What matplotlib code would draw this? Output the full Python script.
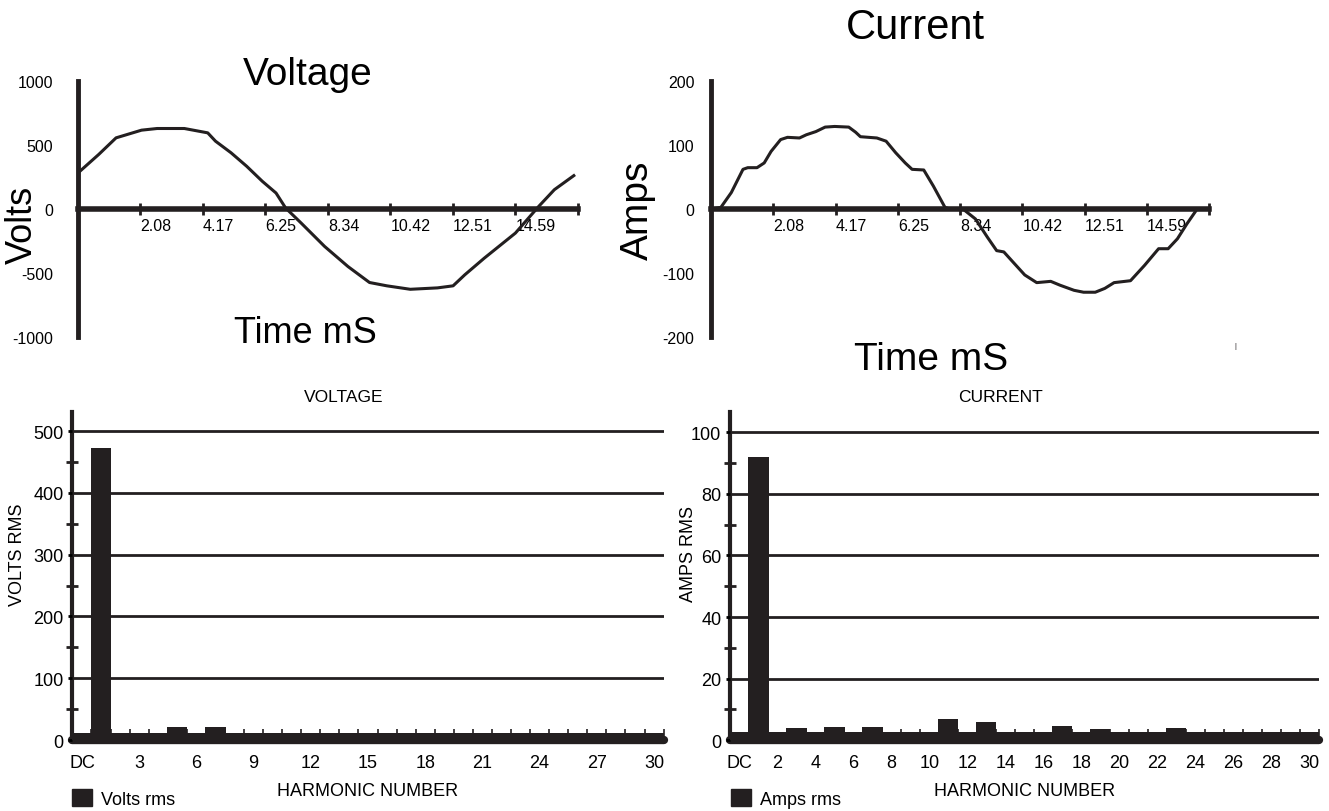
import numpy as np
import matplotlib.pyplot as plt
from matplotlib.patches import Patch

plt.rcParams['font.family'] = ['Liberation Sans', 'DejaVu Sans']
plt.rcParams['axes.unicode_minus'] = False
INK = '#231f20'

# Forma de onda da tensão (ms, V)
volt_t = [0, 0.69, 1.27, 2.12, 2.64, 3.55, 4.33, 4.59, 5.11, 5.63, 6.15, 6.61, 6.93,
          7.45, 8.23, 9.01, 9.73, 10.31, 11.09, 12.0, 12.52, 12.91, 13.56, 14.6,
          15.38, 15.9, 16.55]
volt_v = [282, 426, 556, 616, 629, 629, 595, 530, 439, 334, 217, 125, 8,
          -110, -292, -449, -574, -600, -627, -616, -600, -514, -384, -188,
          21, 151, 261]

# Forma de onda da corrente (ms, A)
amp_t = [0, 0.33, 0.68, 1.07, 1.23, 1.54, 1.78, 2.01, 2.33, 2.56, 2.96, 3.19, 3.51,
         3.82, 4.14, 4.61, 4.84, 5.0, 5.55, 5.86, 6.18, 6.5, 6.73, 7.12, 7.44, 7.83,
         7.99, 8.46, 8.85, 9.25, 9.56, 9.8, 10.11, 10.5, 10.9, 11.37, 11.68, 12.15,
         12.47, 12.86, 13.18, 13.49, 14.04, 14.51, 14.98, 15.3, 15.61, 15.93, 16.27]
amp_a = [0, 2.6, 25.8, 62, 64.6, 64.6, 72, 90, 108.5, 112, 111, 116, 121,
         128, 129, 128, 120, 113, 111, 106, 88, 72, 62, 61, 36, 2.6,
         0, -1, -15.5, -44, -65, -67, -83, -103, -115, -113, -119, -127,
         -130, -130, -124, -115, -112, -88, -62, -62, -46.5, -23, 0]

time_ticks = [2.085 * k for k in range(1, 9)]
time_labels = ['2.08', '4.17', '6.25', '8.34', '10.42', '12.51', '14.59', '']

# Espectro harmônico: DC, 1..30
harm = list(range(31))
volts_rms = [11, 473, 11, 11, 11, 21, 11, 21, 11, 11, 11, 11, 11, 11, 11, 11,
             11, 11, 11, 11, 11, 11, 11, 11, 11, 11, 11, 11, 11, 11, 11]
amps_rms = [2.7, 92, 2.7, 3.8, 2.7, 4.1, 2.7, 4.1, 2.7, 2.7, 2.7, 6.7, 2.7, 5.8, 2.7, 2.7,
            2.7, 4.4, 2.7, 3.5, 2.7, 2.7, 2.7, 4.0, 2.7, 2.7, 2.7, 2.7, 2.7, 2.7, 2.7]
volt_xt = [0, 3, 6, 9, 12, 15, 18, 21, 24, 27, 30]
amp_xt = [0, 2, 4, 6, 8, 10, 12, 14, 16, 18, 20, 22, 24, 26, 28, 30]

fig = plt.figure(figsize=(13.29, 8.12), dpi=100)


def onda(ax, t, y, ylim, yticks, pad):
    ax.plot(t, y, color=INK, lw=2.2, solid_joinstyle='round')
    ax.set_xlim(0, 16.68)
    ax.set_ylim(-ylim, ylim)
    for s in ['top', 'right']:
        ax.spines[s].set_visible(False)
    ax.spines['bottom'].set_position(('data', 0))
    ax.spines['bottom'].set_linewidth(4)
    ax.spines['left'].set_linewidth(3.5)
    ax.spines['bottom'].set_color(INK)
    ax.spines['left'].set_color(INK)
    ax.set_xticks(time_ticks, time_labels)
    for lb in ax.get_xticklabels():
        lb.set_horizontalalignment('left')
    ax.set_yticks(yticks)
    ax.tick_params(axis='x', direction='inout', length=9, width=2, color=INK,
                   labelsize=11.5, pad=2)
    ax.tick_params(axis='y', length=0, labelsize=11.5, pad=pad)
    ax.patch.set_alpha(0)


ax1 = fig.add_axes([0.0587, 0.5837, 0.376, 0.3153])
onda(ax1, volt_t, volt_v, 1000, [-1000, -500, 0, 500, 1000], 18)
ax2 = fig.add_axes([0.535, 0.5837, 0.375, 0.3153])
onda(ax2, amp_t, amp_a, 200, [-200, -100, 0, 100, 200], 12)

fig.text(308 / 1329, 1 - 75 / 812, 'Voltage', fontsize=28, ha='center', va='center')
fig.text(305 / 1329, 1 - 334 / 812, 'Time mS', fontsize=26, ha='center', va='center')
fig.text(22 / 1329, 1 - 225 / 812, 'Volts', fontsize=26, rotation=90, ha='center', va='center')
fig.text(915 / 1329, 1 - 28 / 812, 'Current', fontsize=30, ha='center', va='center')
fig.text(931 / 1329, 1 - 360 / 812, 'Time mS', fontsize=28, ha='center', va='center')
fig.text(638 / 1329, 1 - 210 / 812, 'Amps', fontsize=28, rotation=90, ha='center', va='center')
fig.text(1235 / 1329, 1 - 347 / 812, '|', fontsize=5, ha='center', va='center', color=INK)


def espectro(ax, vals, ymax, step, xt, titulo, ylab, leg, legx, labx):
    ax.bar(harm, vals, width=1.06, color=INK, zorder=3)
    ax.set_xlim(-0.52, 30.5)
    ax.set_ylim(0, ymax)
    for s in ['top', 'right']:
        ax.spines[s].set_visible(False)
    ax.spines['left'].set_linewidth(3)
    ax.spines['bottom'].set_linewidth(6)
    ax.spines['bottom'].set_capstyle('round')
    ax.spines['left'].set_color(INK)
    ax.spines['bottom'].set_color(INK)
    ax.set_yticks(np.arange(0, 5 * step + 1, step))
    ax.set_yticks(np.arange(step / 2, 5 * step, step), minor=True)
    ax.yaxis.grid(True, which='major', color=INK, lw=2)
    ax.set_xticks(xt, ['DC'] + [str(v) for v in xt[1:]])
    ax.set_xticks(np.arange(0.5, 31, 1), minor=True)
    ax.tick_params(axis='x', which='major', length=0, pad=10, labelsize=13)
    ax.tick_params(axis='x', which='minor', direction='in', length=8, width=1.2, color=INK)
    ax.tick_params(axis='y', which='major', length=3, width=2, labelsize=13, pad=3)
    ax.tick_params(axis='y', which='minor', direction='inout', length=8, width=2, color=INK)
    ax.set_axisbelow(False)
    ax.set_title(titulo, fontsize=12.5, x=0.46, pad=8)
    ax.set_xlabel('HARMONIC NUMBER', fontsize=13, labelpad=8)
    ax.set_ylabel(ylab, fontsize=13)
    ax.yaxis.set_label_coords(labx, 0.57)
    ax.legend([Patch(color=INK)], [leg], loc='lower left', frameon=False,
              bbox_to_anchor=(legx, -0.016), bbox_transform=fig.transFigure,
              handlelength=1.1, handleheight=1.1, handletextpad=0.5,
              prop={'size': 13})


ax3 = fig.add_axes([0.0542, 0.0874, 0.4451, 0.4034])
espectro(ax3, volts_rms, 530, 100, volt_xt, 'VOLTAGE', 'VOLTS RMS', 'Volts rms', 0.042, -0.078)
ax4 = fig.add_axes([0.549, 0.0874, 0.4433, 0.4034])
espectro(ax4, amps_rms, 106.5, 20, amp_xt, 'CURRENT', 'AMPS RMS', 'Amps rms', 0.538, -0.055)

fig.savefig('out.png', dpi=100)
